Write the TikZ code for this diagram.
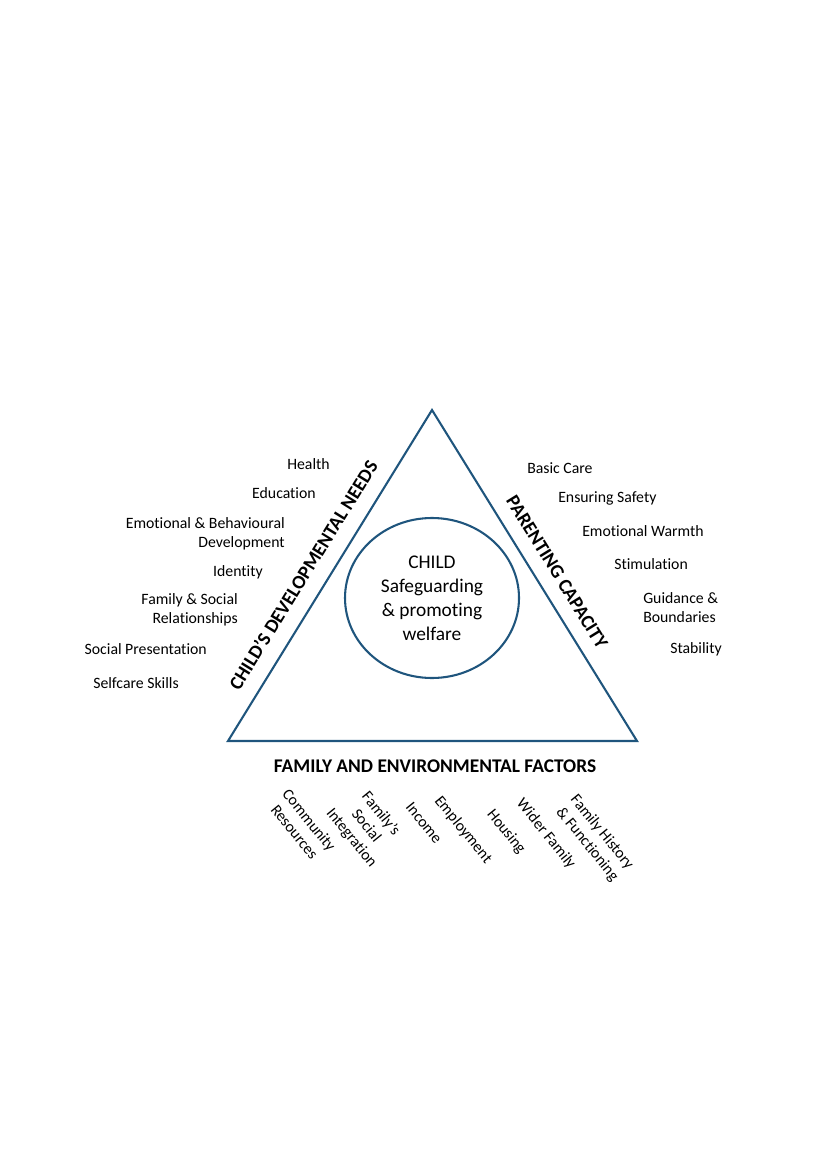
\documentclass[tikz,border=0pt]{standalone}
\usepackage{fontspec}
\setmainfont{Carlito}[Ligatures=NoCommon]
\definecolor{edgeblue}{RGB}{31,85,125}
\tikzset{
  item/.style={font=\fontsize{11.4}{13.7}\selectfont, inner sep=0pt},
  needs/.style={item, anchor=east, align=right},
  care/.style={item, anchor=west, align=left},
  factor/.style={item, align=center, rotate=-51},
  heading/.style={font=\bfseries\fontsize{14}{16}\selectfont, inner sep=0pt},
  frame/.style={edgeblue, line width=1.5pt}
}
\begin{document}
\begin{tikzpicture}[x=0.254mm, y=-0.254mm]
\useasboundingbox (0,0) rectangle (827,1169);

\coordinate (apex) at (432,410);
\coordinate (bl) at (228,741);
\coordinate (br) at (637,741);
\draw[frame] (apex) -- (bl) -- (br) -- cycle;

\draw[frame] (432,598) ellipse (87 and 80);
\node[font=\fontsize{14}{17.3}\selectfont, align=center] (child) at (432,598) {CHILD\\Safeguarding\\\& promoting\\welfare};

\node[heading, rotate=58.3] (cdn) at (303,575) {CHILD’S DEVELOPMENTAL NEEDS};
\node[heading, rotate=-58.3] (pc) at (557,572) {PARENTING CAPACITY};
\node[heading] (fef) at (435,766) {FAMILY AND ENVIRONMENTAL FACTORS};

\node[needs] (health) at (330,464) {Health};
\node[needs] (educ) at (316,493) {Education};
\node[needs] (emob) at (285,533.5) {Emotional \& Behavioural\\Development};
\node[needs] (ident) at (263,572) {Identity};
\node[needs] (famsoc) at (238,610) {Family \& Social\\Relationships};
\node[needs] (socpres) at (207,649) {Social Presentation};
\node[needs] (selfcare) at (179,683) {Selfcare Skills};

\node[care] (basic) at (527,468) {Basic Care};
\node[care] (safety) at (558,498) {Ensuring Safety};
\node[care] (warmth) at (582,531) {Emotional Warmth};
\node[care] (stim) at (614,564) {Stimulation};
\node[care] (guide) at (643,607.5) {Guidance \&\\Boundaries};
\node[care] (stab) at (670,649) {Stability};

\node[factor] (commres) at (302,826) {Community\\Resources};
\node[factor] (integ) at (366,826) {Family’s\\Social\\Integration};
\node[factor] (income) at (424,823) {Income};
\node[factor] (employ) at (463,830) {Employment};
\node[factor] (housing) at (506,832) {Housing};
\node[factor] (wider) at (546,834) {Wider Family};
\node[factor] (history) at (594.5,838.5) {Family History\\\& Functioning};
\end{tikzpicture}
\end{document}
